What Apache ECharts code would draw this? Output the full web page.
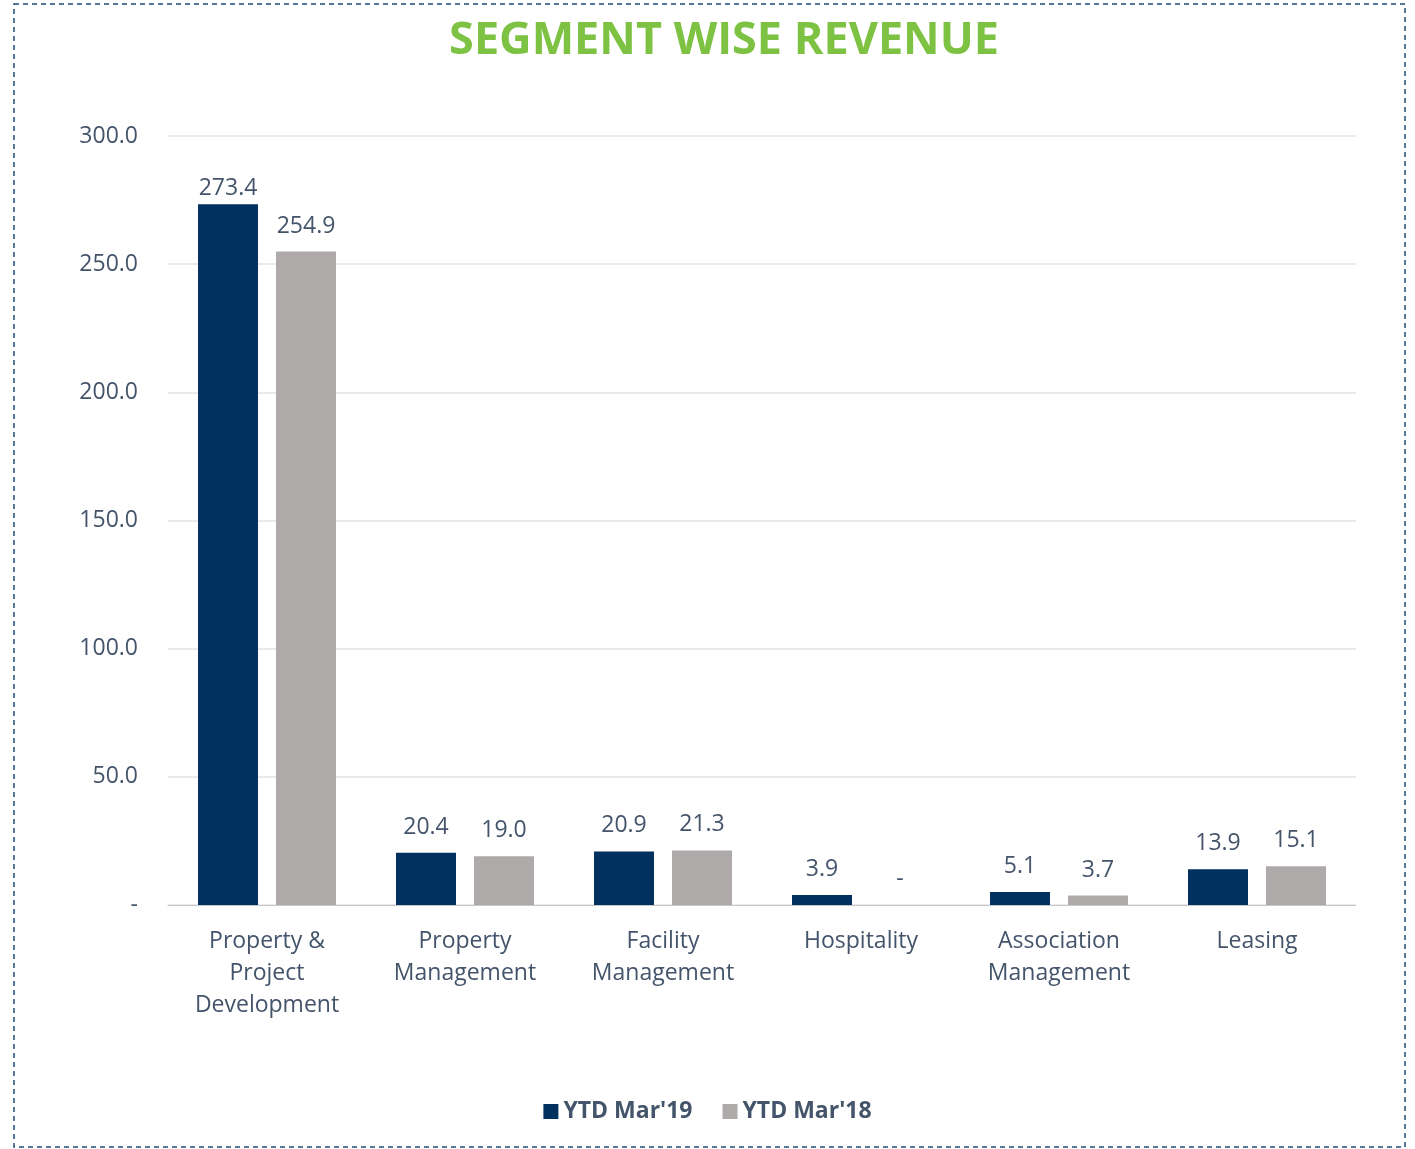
<!DOCTYPE html>
<html>
<head>
<meta charset="utf-8">
<script src="https://cdn.jsdelivr.net/npm/echarts@6/dist/echarts.min.js"></script>
<style>
  html, body { margin: 0; padding: 0; background: #fff; }
  #container { width: 1415px; height: 1149px; }
</style>
</head>
<body>
<div id="container"></div>
<script>
const categories = ['Property &\nProject\nDevelopment', 'Property\nManagement', 'Facility\nManagement', 'Hospitality', 'Association\nManagement', 'Leasing']
const seriesNames = ["YTD Mar'19", "YTD Mar'18"]
const ytd19 = [273.4, 20.4, 20.9, 3.9, 5.1, 13.9]
const ytd18 = [254.9, 19.0, 21.3, 0, 3.7, 15.1]

const textColor = '#44546a'
const fmt = v => (v === 0 ? '-' : v.toFixed(1))

let myChart = echarts.init(document.getElementById('container'), null, { renderer: 'canvas' })

// first label of Mar'19 sits close to its bar, the rest a bit higher
let data19 = ytd19.map((v, i) => (i === 0 ? { value: v, label: { distance: 4 } } : v))

let option = {
  backgroundColor: '#fff',
  animation: false,
  textStyle: { fontFamily: 'Open Sans' },
  title: {
    text: 'SEGMENT WISE REVENUE',
    left: 719,
    top: 14,
    textAlign: 'center',
    textStyle: { color: '#7dc242', fontSize: 45, fontWeight: 'bold', fontFamily: 'Open Sans' }
  },
  // dashed frame round the whole chart
  graphic: [{
    type: 'rect',
    shape: { x: 14, y: 4, width: 1391, height: 1143 },
    style: { fill: 'none', stroke: '#1f4e79', lineWidth: 1.5, lineDash: [5, 4] },
    silent: true
  }],
  legend: {
    data: seriesNames,
    left: 'center',
    top: 1095,
    itemWidth: 15,
    itemHeight: 15,
    itemGap: 30,
    icon: 'rect',
    textStyle: { color: textColor, fontSize: 23, fontWeight: 'bold' }
  },
  grid: { left: 168, right: 59, top: 136, bottom: 244, containLabel: false },
  xAxis: {
    type: 'category',
    data: categories,
    axisLine: { lineStyle: { color: '#bfbfbf', type: 'dotted', width: 1 } },
    axisTick: { show: false },
    axisLabel: { color: textColor, fontSize: 23, lineHeight: 32, margin: 20, interval: 0 }
  },
  yAxis: {
    type: 'value',
    min: 0,
    max: 300,
    interval: 50,
    axisLine: { show: false },
    axisTick: { show: false },
    splitLine: { lineStyle: { color: '#e3e3e3', width: 1.5 } },
    axisLabel: { color: textColor, fontSize: 23, margin: 30, formatter: fmt }
  },
  series: [
    {
      name: seriesNames[0],
      type: 'bar',
      data: data19,
      barWidth: 60,
      barGap: '30%',
      itemStyle: { color: '#03315f' },
      label: { show: true, position: 'top', distance: 14, color: textColor, fontSize: 23, formatter: p => fmt(p.value) }
    },
    {
      name: seriesNames[1],
      type: 'bar',
      data: ytd18,
      barWidth: 60,
      barGap: '30%',
      itemStyle: { color: '#aeaaaa' },
      label: { show: true, position: 'top', distance: 14, color: textColor, fontSize: 23, formatter: p => fmt(p.value) }
    }
  ]
}

option && myChart.setOption(option)
</script>
</body>
</html>
